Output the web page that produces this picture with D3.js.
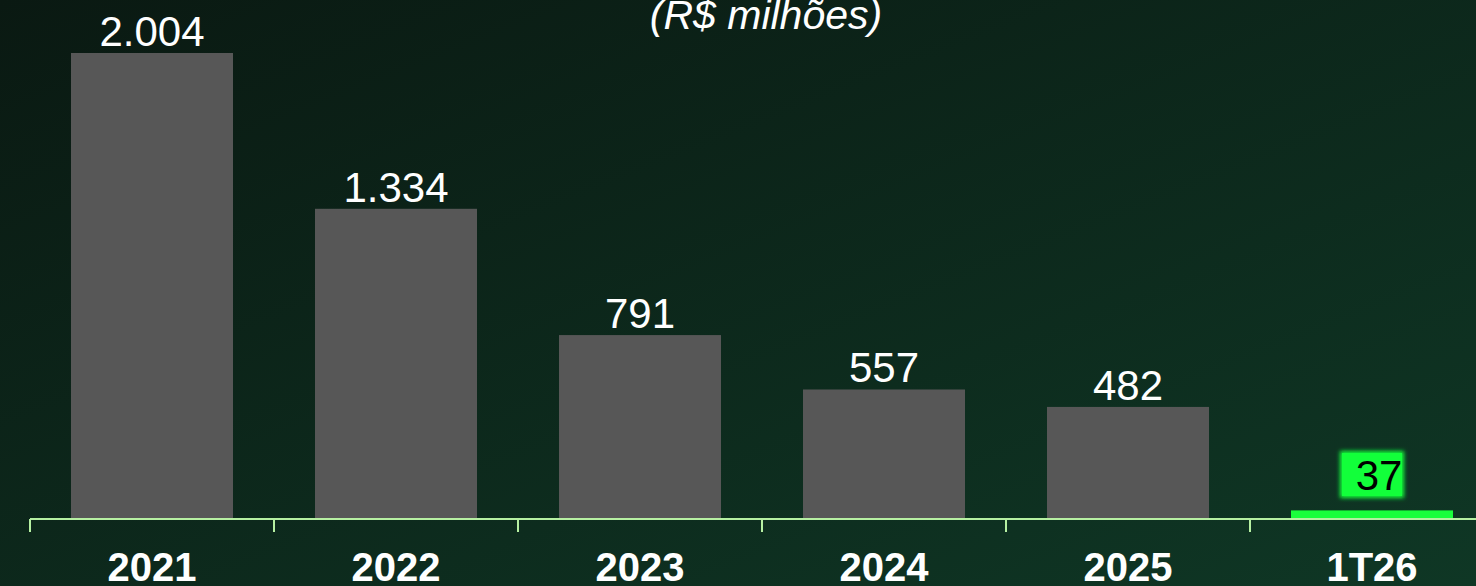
<!DOCTYPE html>
<html>
<head>
<meta charset="utf-8">
<script src="https://cdn.jsdelivr.net/npm/d3@7"></script>
<style>
  html, body { margin: 0; padding: 0; overflow: hidden; background: #0c241a; }
  svg { display: block; font-family: "Liberation Sans", Arial, sans-serif; }
</style>
</head>
<body>
<svg id="chart"></svg>
<script>
// Values (R$ milhões)
const periods = ['2021', '2022', '2023', '2024', '2025', '1T26'];
const values = [2004, 1334, 791, 557, 482, 37];
const valueLabels = ['2.004', '1.334', '791', '557', '482', '37'];
const highlight = ['1T26'];

const width = 1476;
const height = 586;
const baseY = 519;
const topY = 53;

const svg = d3.select('#chart')
    .attr('width', width)
    .attr('height', height);

// Background gradient, dark top-left to lighter green bottom-right
const defs = svg.append('defs');
const grad = defs.append('linearGradient')
    .attr('id', 'bg')
    .attr('x1', '0%').attr('y1', '0%')
    .attr('x2', '100%').attr('y2', '100%');
grad.append('stop').attr('offset', '0%').attr('stop-color', '#0a1912');
grad.append('stop').attr('offset', '100%').attr('stop-color', '#0f3725');

const glow = defs.append('filter')
    .attr('id', 'glow')
    .attr('x', '-30%').attr('y', '-30%')
    .attr('width', '160%').attr('height', '160%');
glow.append('feGaussianBlur').attr('stdDeviation', 2.2);

svg.append('rect')
    .attr('width', width)
    .attr('height', height)
    .attr('fill', 'url(#bg)');

const x = d3.scaleBand()
    .domain(periods)
    .range([30, 30 + 244 * periods.length])
    .paddingInner(0.336)
    .paddingOuter(0.168);

const y = d3.scaleLinear()
    .domain([0, d3.max(values)])
    .range([baseY, topY]);

const data = periods.map((p, i) => ({ p, v: values[i], label: valueLabels[i] }));
const isHi = d => highlight.includes(d.p);

// title, partly off the top like the reference
svg.append('text')
    .attr('x', 766)
    .attr('y', 29)
    .attr('text-anchor', 'middle')
    .attr('fill', '#ffffff')
    .attr('font-size', 41)
    .attr('font-style', 'italic')
    .text('(R$ milhões)');

// value labels (drawn before bars so bars sit over them)
const lbl = svg.append('g');
data.filter(d => !isHi(d)).forEach((d) => {
    lbl.append('text')
        .attr('x', x(d.p) + x.bandwidth() / 2)
        .attr('y', y(d.v) - 7)
        .attr('text-anchor', 'middle')
        .attr('fill', '#ffffff')
        .attr('font-size', 42)
        .text(d.label);
});

svg.append('g').selectAll('rect')
    .data(data)
    .enter()
    .append('rect')
    .attr('x', d => x(d.p))
    .attr('y', d => y(d.v))
    .attr('width', x.bandwidth())
    .attr('height', d => baseY - y(d.v))
    .attr('fill', d => (isHi(d) ? '#19ff3c' : '#575757'));

// highlighted label in a glowing green box
data.filter(isHi).forEach((d) => {
    const cx = x(d.p) + x.bandwidth() / 2;
    const g = svg.append('g');
    g.append('rect')
        .attr('x', cx - 32)
        .attr('y', 451)
        .attr('width', 64)
        .attr('height', 47)
        .attr('fill', '#12ff3a')
        .attr('filter', 'url(#glow)');
    g.append('rect')
        .attr('x', cx - 30)
        .attr('y', 453)
        .attr('width', 60)
        .attr('height', 43)
        .attr('fill', '#12ff3a');
    g.append('text')
        .attr('x', cx + 7)
        .attr('y', 490)
        .attr('text-anchor', 'middle')
        .attr('fill', '#000000')
        .attr('font-size', 42)
        .text(d.label);
});

// x axis
const axis = d3.axisBottom(x)
    .tickSize(0)
    .tickPadding(0);

const ax = svg.append('g')
    .attr('transform', `translate(0,${baseY})`)
    .call(axis);
ax.select('.domain').remove();
ax.append('line')
    .attr('x1', 30).attr('x2', width)
    .attr('y1', 0).attr('y2', 0)
    .attr('stroke', '#b6f0a2')
    .attr('stroke-width', 2);
// tick marks at band boundaries
ax.selectAll('.bound')
    .data(periods)
    .enter()
    .append('line')
    .attr('class', 'bound')
    .attr('x1', d => x(d) - x.step() * x.paddingOuter())
    .attr('x2', d => x(d) - x.step() * x.paddingOuter())
    .attr('y1', 0)
    .attr('y2', 13)
    .attr('stroke', '#b6f0a2')
    .attr('stroke-width', 2);
ax.selectAll('.tick text')
    .attr('y', 62)
    .attr('dy', 0)
    .attr('fill', '#ffffff')
    .attr('font-size', 40)
    .attr('font-weight', 'bold')
    .attr('font-family', '"Liberation Sans", Arial, sans-serif');
</script>
</body>
</html>
